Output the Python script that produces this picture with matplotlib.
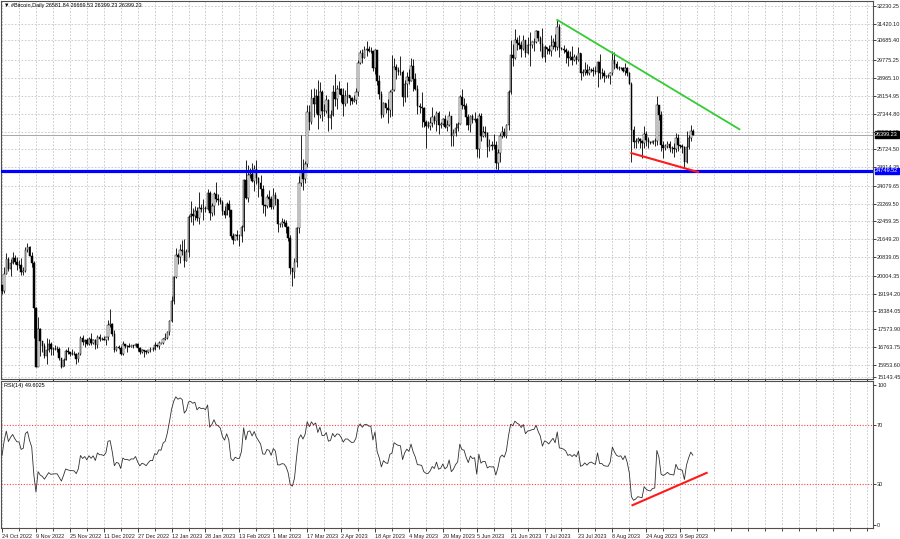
import matplotlib
matplotlib.use("Agg")
import numpy as np
import pandas as pd
import matplotlib.pyplot as plt
import matplotlib.transforms as mtransforms

# closes before the visible window (RSI warm-up), 1 Sep - 23 Oct 2022
pre_close = [20050, 19990, 19830, 19990, 19800, 18790, 19290, 19320, 21360, 21650,
             21830, 22400, 20170, 20230, 19700, 19800, 20110, 19420, 19540, 18880,
             18480, 19400, 19290, 18920,
             18810, 19225, 19080, 19410, 19590, 19420, 19310, 19060, 19630, 20340,
             20160, 19955, 19530, 19420, 19440, 19130, 19060, 19155, 19380, 19185,
             19070, 19260, 19550, 19330, 19125, 19040, 19165, 19205, 19570]

# daily bars from 24 Oct 2022 (open = previous close)
close = [
    # Oct 24 - Oct 31
    19330, 20080, 20770, 20290, 20595, 20820, 20630, 20490,
    # Nov
    20480, 20150, 20210, 21150, 21300, 20905, 20590, 18540, 15880, 17590,
    17040, 16800, 16350, 16620, 16900, 16660, 16690, 16700, 16700, 16280,
    15850, 16190, 16600, 16520, 16460, 16440, 16430, 16210, 16440, 17170,
    # Dec
    16980, 17090, 16890, 17110, 16970, 17090, 16840, 17220, 17130, 17130,
    17090, 17210, 17780, 17810, 17360, 16630, 16780, 16740, 16440, 16900,
    16820, 16830, 16780, 16840, 16830, 16920, 16710, 16550, 16630, 16600, 16540,
    # Jan
    16620, 16680, 16670, 16850, 16830, 16950, 16940, 17130, 17180, 17440,
    17940, 18850, 19930, 20950, 20870, 21180, 21130, 20680, 21070, 22670,
    22780, 22710, 22920, 22630, 23060, 23010, 23080, 23030, 23770, 22840, 23140,
    # Feb
    23720, 23490, 23430, 23330, 22930, 22760, 23260, 22960, 21800, 21630,
    21860, 21780, 21780, 22200, 24330, 23520, 24570, 24630, 24290, 24830,
    24440, 24190, 23950, 23190, 23150, 23550, 23490, 23130,
    # Mar
    23650, 23470, 22360, 22350, 22430, 22410, 22200, 21700, 20360, 20190,
    20630, 22160, 24200, 24750, 24380, 25050, 27420, 26970, 28040, 27770,
    28170, 27300, 28330, 27490, 27490, 27990, 27140, 27270, 28350, 28030, 28480,
    # Apr
    28450, 28200, 27790, 28170, 28180, 28040, 27920, 27950, 28330, 29650,
    30100, 29890, 30250, 30300, 30200, 30200, 29440, 30250, 28820, 28250,
    27270, 27820, 27590, 27520, 28310, 28420, 29470, 29340, 29250, 29230,
    # May
    28090, 28680, 29030, 28850, 29530, 28900, 28450, 27690, 27660, 27620,
    26990, 26810, 26780, 26930, 27190, 27030, 27400, 26830, 26890, 27120,
    26750, 26850, 27230, 26330, 26470, 26720, 26870, 28090, 27740, 27700, 27220,
    # Jun
    26820, 27250, 27070, 27120, 25760, 27240, 26350, 26500, 26480, 25840,
    25940, 25900, 25920, 25120, 25580, 26330, 26510, 26340, 26840, 28310,
    30000, 29890, 30690, 30550, 30470, 30270, 30690, 30090, 30440, 30470,
    # Jul
    30590, 30620, 31100, 30770, 30510, 29900, 30350, 30290, 30170, 30410,
    30620, 30390, 31300, 30330, 30300, 30250, 30140, 29860, 29920, 29800,
    29910, 29790, 30080, 29180, 29230, 29350, 29210, 29310, 29350, 29280, 29230,
    # Aug
    29700, 29180, 29180, 29070, 29050, 29040, 29180, 29770, 29580, 29440,
    29400, 29420, 29280, 29410, 29170, 28700, 26630, 26050, 26100, 26190,
    26120, 26040, 26430, 26170, 26050, 26010, 26090, 26100, 27730, 27300, 25930,
    # Sep 1 - 15
    25800, 25870, 25970, 25810, 25780, 25750, 26240, 25910, 25900, 25830,
    25160, 25840, 26230, 26582, 26399.23,
]

high = [
    19600, 20410, 21020, 20870, 20750, 21085, 20930, 20840,
    20700, 20800, 20400, 21300, 21480, 21370, 21070, 20670, 18600, 18150,
    17650, 17060, 16950, 17190, 17130, 16990, 16750, 16870, 16800, 16750,
    16290, 16270, 16690, 16770, 16530, 16670, 16600, 16480, 16530, 17250,
    17320, 17110, 17160, 17200, 17420, 17110, 17140, 17300, 17360, 17230,
    17270, 17240, 18000, 18500, 17850, 17530, 16800, 16860, 16820, 17060,
    16900, 16870, 16960, 16870, 16860, 16930, 16970, 16790, 16660, 16630, 16640,
    16630, 16760, 16780, 16990, 16880, 17040, 16960, 17160, 17400, 17490,
    17990, 19100, 19970, 21260, 21050, 21440, 21600, 21650, 21190, 22750,
    23370, 23080, 23160, 23120, 23790, 23260, 23500, 23160, 23950, 23820, 23300,
    23810, 24250, 23720, 23590, 23430, 23160, 23360, 23450, 22990, 21940,
    21890, 22090, 21890, 22320, 24380, 25250, 25020, 24880, 25120, 25000,
    25250, 24470, 24590, 24130, 23210, 23690, 23880, 23600,
    23990, 23780, 23480, 22410, 22630, 22560, 22520, 22270, 21830, 20360,
    20790, 22190, 24500, 26400, 25290, 25210, 27750, 27720, 28460, 28500,
    28450, 28880, 28800, 28400, 27800, 28200, 28020, 27500, 28650, 29160, 28650,
    28810, 28530, 28490, 28440, 28770, 28190, 28110, 28180, 28530, 29770,
    30250, 30300, 30400, 30650, 30400, 30350, 30200, 30300, 30250, 29080,
    28370, 27880, 27820, 28000, 28400, 30020, 29880, 29600, 29450, 29970,
    29340, 28880, 29260, 29370, 29850, 29830, 29170, 28660, 27820, 28320,
    27630, 27050, 27030, 27200, 27650, 27270, 27480, 27470, 26950, 27160,
    27280, 27060, 27480, 27210, 26640, 26930, 26950, 28200, 28450, 28050, 27830,
    27350, 27300, 27330, 27440, 27150, 27360, 27380, 26790, 26780, 26530,
    26200, 26100, 26420, 26090, 25750, 26470, 26780, 26680, 26890, 28400,
    30700, 30500, 31200, 30810, 30900, 30660, 30900, 30710, 30830, 31050,
    30660, 30790, 31150, 31100, 30880, 31250, 30450, 30380, 30440, 30900,
    30800, 30980, 31600, 31400, 30390, 30440, 30340, 30240, 30190, 30420,
    30050, 29990, 30350, 30100, 29370, 29690, 29580, 29530, 29410, 29450, 29530,
    29740, 30050, 29410, 29310, 29120, 29160, 29240, 30200, 30140, 29720,
    29530, 29460, 29460, 29660, 29480, 29220, 28780, 26800, 26250, 26290,
    26250, 26140, 26800, 26570, 26300, 26120, 26170, 26240, 28140, 27760, 27490,
    26130, 25980, 26130, 26090, 25860, 26000, 26450, 26430, 25940, 25980,
    25880, 26540, 26400, 26850, 26669.53,
]

low = [
    19160, 19240, 20060, 20200, 20000, 20550, 20520, 20240,
    20330, 20050, 20030, 20180, 21080, 20880, 20390, 17170, 15860, 15950,
    16360, 16530, 16270, 16000, 16520, 16400, 16420, 16640, 16550, 16180,
    15830, 15900, 16170, 16460, 16350, 16400, 16410, 16000, 16110, 16420,
    16860, 16790, 16860, 16880, 16870, 16910, 16690, 16730, 17060, 17090,
    17070, 16870, 17080, 17660, 17280, 16530, 16580, 16660, 16400, 16400,
    16740, 16560, 16760, 16780, 16730, 16790, 16590, 16470, 16510, 16330, 16470,
    16500, 16550, 16600, 16650, 16750, 16680, 16900, 16910, 17100, 17150,
    17320, 17910, 18720, 19890, 20550, 20600, 20920, 20400, 20660, 20860,
    22420, 22300, 22520, 22460, 22330, 22880, 22540, 22890, 23000, 22540, 22720,
    22760, 23360, 23210, 23250, 22750, 22630, 22750, 22680, 21700, 21450,
    21600, 21630, 21350, 21530, 22050, 23500, 23340, 24450, 24230, 23850,
    24150, 23580, 23630, 22860, 22730, 23070, 23110, 23020,
    23020, 23200, 21970, 22190, 22200, 22260, 21940, 21590, 20090, 19550,
    19900, 20410, 21920, 24080, 23900, 24200, 24930, 26600, 26900, 27200,
    27400, 26650, 27150, 27000, 27250, 27380, 26560, 26670, 27230, 27710, 27550,
    28250, 27880, 27260, 27680, 27830, 27720, 27780, 27880, 27800, 28170,
    29610, 29640, 29870, 29970, 30150, 30100, 29270, 29150, 28650, 28020,
    27140, 27180, 27360, 26940, 27200, 27250, 28380, 28900, 29080, 29100,
    27680, 27870, 28120, 28700, 28820, 28390, 28400, 27340, 27380, 26760,
    26740, 25810, 26700, 26600, 26750, 26870, 26580, 26410, 26690, 26840,
    26690, 26560, 26800, 25880, 25860, 26350, 26570, 26860, 27550, 27570, 26840,
    26600, 26530, 26920, 26960, 25400, 25350, 26130, 26300, 26270, 25400,
    25640, 25720, 25740, 24820, 24750, 25170, 26260, 26300, 26250, 26630,
    28260, 29520, 29810, 30250, 30290, 29930, 30230, 29910, 30040, 29500,
    30330, 30180, 30570, 30640, 30200, 29850, 29700, 30040, 30070, 29950,
    30270, 30210, 30250, 29940, 30250, 30080, 29660, 29500, 29760, 29560,
    29720, 29620, 29740, 28860, 29050, 29100, 29090, 29120, 29260, 29040, 29140,
    28580, 28940, 28960, 28800, 28950, 28970, 28700, 29110, 29380, 29360,
    29330, 29360, 29250, 29100, 29060, 28700, 25170, 25800, 25800, 26000,
    25800, 25350, 25800, 25860, 25770, 25990, 25980, 25880, 25920, 27050, 25660,
    25330, 25720, 25810, 25610, 25570, 25370, 25620, 25650, 25800, 25570,
    24900, 25130, 25760, 26130, 26399.23,
]
last_open = 26581.84

# right price scale labels as printed on the chart
price_ticks = [32230.25, 31420.10, 30685.40, 29775.25, 28965.10, 28154.95, 27344.80,
               26534.65, 25724.50, 24914.35, 24079.65, 23269.50, 22459.35, 21649.20,
               20839.05, 20004.35, 19194.20, 18384.05, 17573.90, 16763.75, 15953.60]
bottom_label = "15143.45"

support_level = 24749.52
last_price = 26399.23
rsi_last = "49.6025"

# hand-drawn trend lines (bar index, value)
green_x, green_y = [262, 348], [31600, 26640]
red_price_x, red_price_y = [297, 328.5], [25560, 24700]
red_rsi_x, red_rsi_y = [297.5, 332.5], [15.5, 37.5]

font = ['Liberation Sans', 'DejaVu Sans']
plt.rcParams['font.family'] = font
fs = 4.0

n = len(close)
idx = np.arange(n)
dates = pd.date_range('2022-10-24', periods=n, freq='D')
opens = np.array([pre_close[-1]] + close[:-1], dtype=float)
opens[-1] = last_open
closes = np.array(close, dtype=float)

# RSI(14), Wilder smoothing
allc = np.array(pre_close + close, dtype=float)
d = np.diff(allc)
g = np.where(d > 0, d, 0.0)
l = np.where(d < 0, -d, 0.0)
ag, al = g[:14].mean(), l[:14].mean()
rsi_all = [np.nan] * 14
for k in range(14, len(d)):
    ag = (ag * 13 + g[k]) / 14
    al = (al * 13 + l[k]) / 14
    rsi_all.append(100 - 100 / (1 + ag / al) if al > 0 else 100)
rsi = np.array(rsi_all)[-n:]

W, H = 900, 539
fig = plt.figure(figsize=(9, 5.39), dpi=100)
ax = fig.add_axes([1 / W, 1 - 379 / H, 872 / W, 378 / H])
ax2 = fig.add_axes([1 / W, 1 - 528 / H, 872 / W, 147 / H], sharex=ax)

y_lo, y_hi = 15318, 32457
ax.set_xlim(-0.5, 411)
ax.set_ylim(y_lo, y_hi)

grid_kw = dict(color='#c4c4c4', linestyle=(0, (2, 2)), linewidth=0.6)

# candles
up = closes >= opens
ax.vlines(idx, low, high, color='black', linewidth=0.6, zorder=3)
ax.bar(idx[up], (closes - opens)[up], bottom=opens[up], width=0.75,
       facecolor='white', edgecolor='black', linewidth=0.35, zorder=4)
ax.bar(idx[~up], (opens - closes)[~up], bottom=closes[~up], width=0.75,
       facecolor='black', edgecolor='black', linewidth=0.35, zorder=4)

ax.axhline(last_price, color='#a8a8a8', linewidth=0.7, zorder=2)
ax.axhline(support_level, color='#0000ff', linewidth=2.3, zorder=5)
ax.plot(green_x, green_y, color='#33cc33', linewidth=1.3, zorder=6)
ax.plot(red_price_x, red_price_y, color='#ff1a1a', linewidth=1.5, zorder=6)

# price axis
ax.yaxis.tick_right()
ax.set_yticks(price_ticks + [y_lo + 2.5 * 45.3])
ax.set_yticklabels([f"{v:.2f}" for v in price_ticks] + [bottom_label])
ax.tick_params(axis='y', direction='out', length=2, width=0.6, pad=1,
               labelsize=fs, colors='#202020')
ax.tick_params(axis='x', bottom=False, labelbottom=False)

trans = mtransforms.blended_transform_factory(ax.transAxes, ax.transData)
box_kw = dict(transform=trans, fontsize=fs, color='white', ha='left', va='center',
              zorder=10)
ax.text(1.0025, last_price, f"{last_price:.2f}", **box_kw,
        bbox=dict(boxstyle='square,pad=0.12', facecolor='black', edgecolor='black'))
ax.text(1.0025, support_level, f"{support_level:.2f}", **box_kw,
        bbox=dict(boxstyle='square,pad=0.12', facecolor='#0000ff', edgecolor='#0000ff'))

ax.text(0.004, 0.994, "\u25bc #Bitcoin,Daily 26581.84 26669.53 26399.23 26399.23",
        transform=ax.transAxes, fontsize=fs, color='black', ha='left', va='top')

# RSI panel
ax2.set_ylim(0, 100)
ax2.plot(idx, rsi, color='#303030', linewidth=0.6, zorder=3)
ax2.axhline(70, color='#ff4040', linestyle=(0, (1, 1.5)), linewidth=0.8)
ax2.axhline(30, color='#ff4040', linestyle=(0, (1, 1.5)), linewidth=0.8)
ax2.plot(red_rsi_x, red_rsi_y, color='#ff1a1a', linewidth=1.5, zorder=6)
ax2.yaxis.tick_right()
ax2.set_yticks([2, 30, 70, 97.5])
ax2.set_yticklabels(['0', '30', '70', '100'])
ax2.tick_params(axis='y', direction='out', length=2, width=0.6, pad=1,
                labelsize=fs, colors='#202020')
ax2.text(0.004, 0.985, f"RSI(14) {rsi_last}", transform=ax2.transAxes,
         fontsize=fs, ha='left', va='top')

# date axis
major = np.arange(0, 330, 16)
minor = np.arange(8, 410, 8)
ax2.set_xticks(major)
ax2.set_xticks(minor, minor=True)
ax2.set_xticklabels([f"{dates[i].day} {dates[i].strftime('%b %Y')}" for i in major])
ax2.tick_params(axis='x', which='major', direction='out', length=3, width=0.6,
                pad=1.5, labelsize=fs, colors='#202020')
ax2.tick_params(axis='x', which='minor', direction='out', length=2, width=0.5)
for t in ax2.get_xticklabels():
    t.set_ha('left')

ax.set_xticks(minor, minor=True)
ax.grid(True, which='both', axis='x', **grid_kw)
ax.grid(True, which='major', axis='y', **grid_kw)
ax2.grid(True, which='both', axis='x', **grid_kw)
ax2.grid(False, axis='y')
ax.set_axisbelow(True)
ax2.set_axisbelow(True)

for a in (ax, ax2):
    for s in a.spines.values():
        s.set_color('#505050')
        s.set_linewidth(0.8)

fig.savefig('out.png', dpi=100, facecolor='white')
